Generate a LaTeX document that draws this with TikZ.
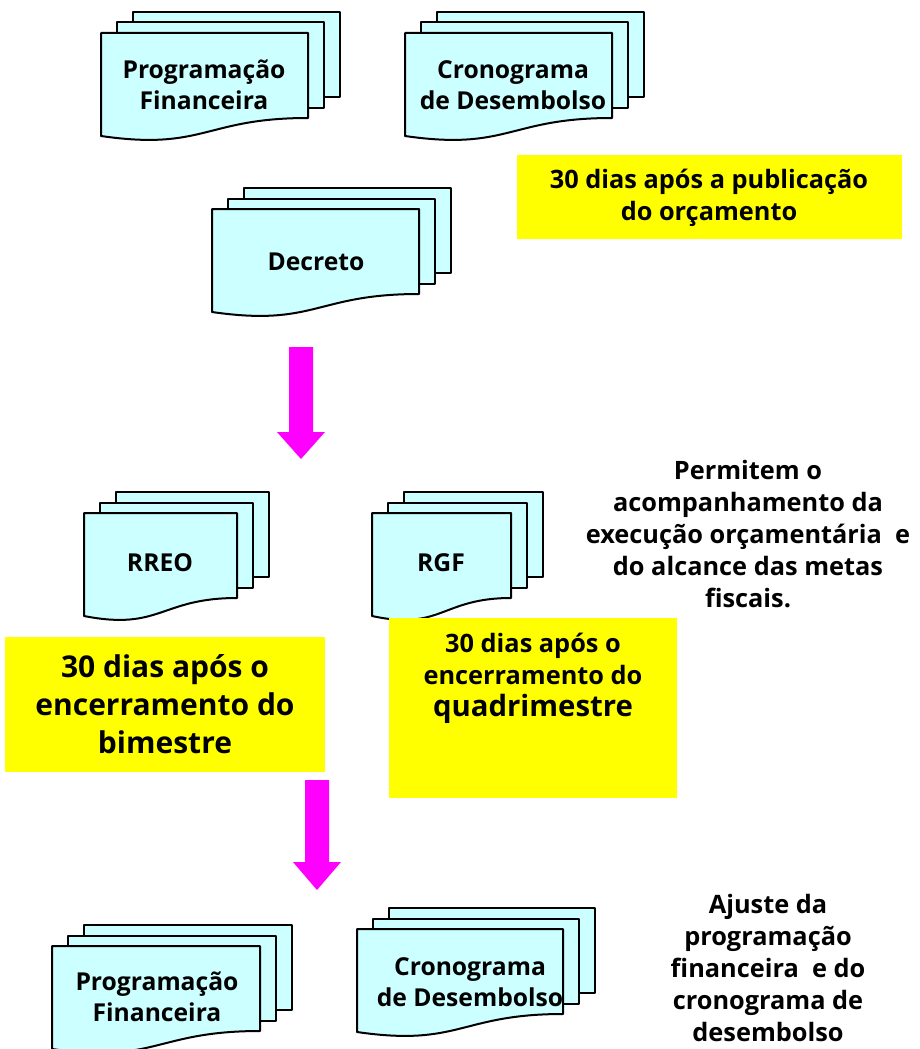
\documentclass[tikz,border=0pt]{standalone}
\usepackage{fontspec}
\setmainfont{Open Sans}

\definecolor{doccyan}{RGB}{204,255,255}
\definecolor{notayellow}{RGB}{255,255,0}
\definecolor{setamagenta}{RGB}{255,0,255}

\tikzset{every picture/.style={line width=0.75pt}}
\tikzset{
  page/.style={draw=black, fill=doccyan, line width=1.5pt, line join=round},
  doctext/.style={align=center, font=\bfseries\fontsize{18.5}{23}\selectfont},
  notatext/.style={align=center, font=\bfseries\fontsize{19}{24}\selectfont},
  bigtext/.style={align=center, font=\bfseries\fontsize{22.5}{28.5}\selectfont}
}

% stack of three pages: #1,#2 = top left of front page, #3 = width
\newcommand{\pilhadoc}[3]{%
  \draw[page] ({#1+32},{#2-21}) rectangle ++(#3,85);
  \draw[page] ({#1+16},{#2-10.5}) rectangle ++(#3,85);
  \draw[page] (#1,#2) -- ++(#3,0) -- ++(0,85) .. controls +({-#3/2},0) and +({#3/2},15) .. (#1,{#2+103}) -- cycle;
}

\begin{document}
\begin{tikzpicture}[x=0.75pt,y=0.75pt,yscale=-1,xscale=1]
                            \useasboundingbox (0,0) rectangle (920,1049);
                            \clip (0,0) rectangle (920,1049);
                            \fill[white] (0,0) rectangle (920,1049);

                            %Shape: Multidocument [top row]
                            \pilhadoc{101}{33}{207}
                            \pilhadoc{405}{33}{207}
                            %Shape: Multidocument [decreto]
                            \pilhadoc{212}{209}{207}
                            %Shape: Multidocument [relatorios]
                            \pilhadoc{84}{513}{153}
                            \pilhadoc{372}{513}{139}
                            %Shape: Multidocument [bottom row]
                            \pilhadoc{52}{946}{208}
                            \pilhadoc{357}{929}{206}

                            %Shape: Rectangle [notes]
                            \fill[notayellow] (517,155) rectangle (902,239);
                            \fill[notayellow] (5,637) rectangle (325,772);
                            \fill[notayellow] (389,618) rectangle (677,798);

                            %Shape: Down Arrow
                            \fill[setamagenta] (289,347) -- (313,347) -- (313,432) -- (325,432) -- (301,459) -- (277,432) -- (289,432) -- cycle;
                            %Shape: Down Arrow
                            \fill[setamagenta] (305,780) -- (329,780) -- (329,862) -- (341,862) -- (317,890) -- (293,862) -- (305,862) -- cycle;

                            % Text Node
                            \draw (204,85) node (progfin) [doctext] {Programação\\Financeira};
                            % Text Node
                            \draw (513,85) node (cronodes) [doctext] {Cronograma\\de Desembolso};
                            % Text Node
                            \draw (709,198) node (prazoorc) [notatext] {30 dias após a publicação\\do orçamento};
                            % Text Node
                            \draw (316,262) node (decreto) [doctext] {Decreto};
                            % Text Node
                            \draw (160,563) node (rreo) [doctext] {RREO};
                            % Text Node
                            \draw (441,563) node (rgf) [doctext] {RGF};
                            % Text Node
                            \draw (748,534) node (permitem) [notatext] {Permitem o\\acompanhamento da\\execução orçamentária~ e\\do alcance das metas\\fiscais.};
                            % Text Node
                            \draw (165,704) node (prazobim) [bigtext] {30 dias após o\\encerramento do\\bimestre};
                            % Text Node
                            \draw (533,678) node (prazoquad) [notatext] {30 dias após o\\encerramento do\\{\fontsize{22}{24}\selectfont quadrimestre}};
                            % Text Node
                            \draw (157,997) node (progfinb) [doctext] {Programação\\Financeira};
                            % Text Node
                            \draw (470,982) node (cronodesb) [doctext] {Cronograma\\de Desembolso};
                            % Text Node
                            \draw (768,968) node (ajuste) [notatext] {Ajuste da\\programação\\financeira~ e do\\cronograma de\\desembolso};

                        \end{tikzpicture}
\end{document}
